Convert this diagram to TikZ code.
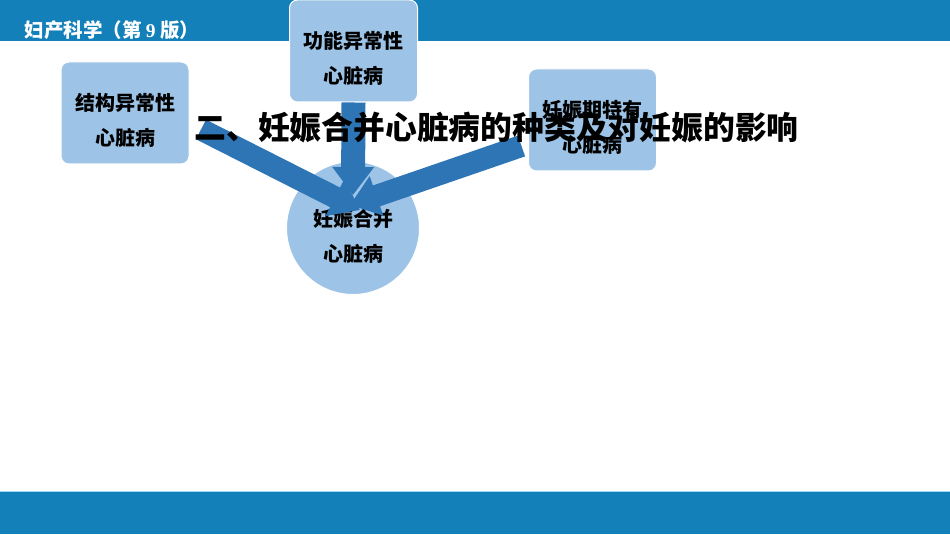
\documentclass[tikz,border=0pt]{standalone}
\usepackage{fontspec}
\newfontfamily\cjk{Noto Sans CJK SC}
\newfontfamily\serifnum{Liberation Serif}
\usetikzlibrary{arrows.meta}
\definecolor{barblue}{RGB}{19,128,185}
\definecolor{boxblue}{RGB}{157,195,230}
\definecolor{arrowblue}{RGB}{46,117,182}
\definecolor{lineblue}{RGB}{160,216,240}
\tikzset{
	kindbox/.style={rectangle,rounded corners=8pt,fill=boxblue,draw=white,line width=1pt,
		minimum width=128pt,minimum height=102pt},
	heartbox/.style={circle,fill=boxblue,draw=white,line width=1pt,minimum size=133pt},
	kindtext/.style={align=center,font=\cjk\bfseries\fontsize{20}{35}\selectfont},
	fatarrow/.style={draw=arrowblue,line width=24pt,
		-{Triangle[width=40pt,length=28pt,fill=arrowblue]}}
}
\begin{document}
\begin{tikzpicture}[x=1pt,y=1pt]
		\useasboundingbox (0,0) rectangle (950,535);
		\fill[white] (0,0) rectangle (950,535);
		
		\fill[barblue] (0,494) rectangle (950,535);
		\fill[barblue] (0,1) rectangle (950,43);
		\draw[lineblue,line width=1pt] (0,43) -- (950,43);
		\node[anchor=west,text=white,font=\cjk\bfseries\fontsize{19.5}{22}\selectfont] (course) at (21,505) {妇产科学（第 {\serifnum 9} 版）};
		
		\node[kindbox] (b1) at (125,422) {};
		\node[kindbox] (b2) at (353.5,484) {};
		\node[kindbox] (b3) at (592.5,415) {};
		\node[heartbox] (heart) at (353,307) {};
		\node[kindtext] (b1t) at ([yshift=-7pt]b1.center) {结构异常性\\心脏病};
		\node[kindtext] (b2t) at ([yshift=-7pt]b2.center) {功能异常性\\心脏病};
		\node[kindtext] (b3t) at ([yshift=-7pt]b3.center) {妊娠期特有\\心脏病};
		\node[kindtext] (heartt) at ([yshift=-8pt]heart.center) {妊娠合并\\心脏病};
		
		\draw[fatarrow] (b2.south) -- ([yshift=33pt]heart.center);
		\draw[fatarrow,line width=22pt] ([xshift=11.5pt,yshift=-16.5pt]b1.east) -- ([xshift=7pt,yshift=18pt]heart.center);
		\draw[fatarrow,line width=22pt] ([xshift=-6.5pt,yshift=-26pt]b3.west) -- ([xshift=-3pt,yshift=23pt]heart.center);
		
		\node[font=\cjk\bfseries\fontsize{31.8}{34}\selectfont] (title) at (496.5,407) {二、妊娠合并心脏病的种类及对妊娠的影响};
	\end{tikzpicture}
\end{document}
